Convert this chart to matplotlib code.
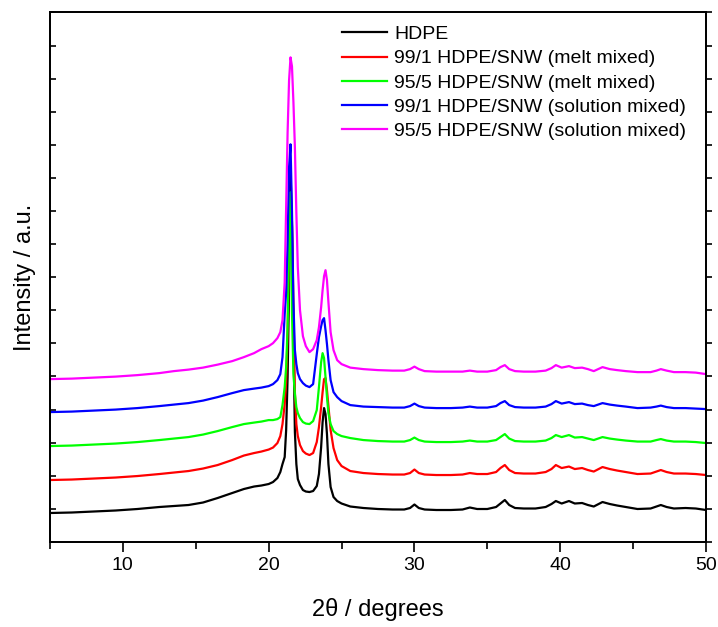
"""XRD patterns of HDPE and HDPE/SNW composites, curves stacked with offsets."""

import matplotlib

matplotlib.use("Agg")
import matplotlib.pyplot as plt  # noqa: E402
import numpy as np  # noqa: E402

plt.rcParams["font.family"] = ["Liberation Sans", "DejaVu Sans"]

# 2theta (degrees)
two_theta = [
    5.0, 6.5, 8.0, 9.5, 11.0, 12.5, 13.5, 14.5, 15.5, 16.5,
    17.5, 18.3, 19.0, 19.5, 20.0, 20.3, 20.6, 20.8, 20.95, 21.1,
    21.2, 21.3, 21.4, 21.5, 21.6, 21.7, 21.8, 21.9, 22.0, 22.15,
    22.35, 22.55, 22.8, 23.05, 23.3, 23.45, 23.6, 23.7, 23.8, 23.9,
    24.0, 24.1, 24.25, 24.45, 24.7, 25.0, 25.6, 26.5, 27.5, 28.5,
    29.3, 29.7, 30.0, 30.3, 30.7, 31.5, 32.5, 33.3, 33.8, 34.3,
    35.0, 35.6, 35.9, 36.2, 36.5, 36.9, 37.5, 38.3, 39.0, 39.4,
    39.7, 40.1, 40.6, 41.0, 41.5, 41.9, 42.3, 42.9, 43.4, 43.9,
    44.5, 45.3, 46.2, 46.6, 46.9, 47.3, 47.8, 48.6, 49.3, 50.0,
]

# intensities (a.u.), already offset as in the figure
hdpe = [
    29, 29.5, 30.5, 31.5, 33, 35, 36, 37, 39.5, 44,
    49, 53, 55.5, 56.5, 58, 60, 64, 70, 78, 85,
    112, 165, 255, 372, 315, 205, 110, 78, 63, 57,
    52, 50.5, 50, 51, 56, 68, 95, 120, 134, 128,
    108, 78, 55, 45, 41, 38.5, 35.5, 34, 33, 32.5,
    32.5, 34, 37.5, 34, 32.5, 32, 32, 32.5, 34.5, 33,
    33, 35, 38.5, 42, 37, 34, 33.5, 33.5, 35, 38,
    41, 38.5, 41, 38.5, 39, 37, 35.5, 40, 38, 36.5,
    35, 33, 33.5, 35.5, 37, 35, 33.5, 34, 33.5, 32,
]
melt_99_1 = [
    62, 62.5, 63.5, 64.5, 66, 68, 69.5, 71, 73.5, 77,
    82, 86.5, 89, 90.5, 92.5, 94.5, 99, 106, 118, 138,
    160, 210, 290, 345, 320, 235, 150, 118, 106, 97,
    91, 88.5, 87, 89, 100, 115, 135, 150, 163, 164,
    152, 136, 112, 94, 82, 76, 71, 69, 68, 67.5,
    67.5, 69, 72.5, 69, 67.5, 67, 67, 67.5, 69, 68,
    68, 70, 74, 77, 72, 69, 68.5, 68.5, 70, 73,
    77, 74, 75.5, 73, 74, 72, 70.5, 75, 73, 71.5,
    70, 68, 68.5, 70.5, 72, 70, 68.5, 68.5, 68, 67,
]
melt_95_5 = [
    96, 96.5, 97.5, 98.5, 100, 102, 103.5, 105, 107.5, 111,
    115, 118, 119.5, 120.5, 122, 122, 123, 125, 137, 155,
    175, 215, 300, 350, 230, 168, 148, 135, 129, 124,
    120, 118.5, 118, 121, 132, 155, 180, 189, 184, 165,
    145, 129, 118, 111, 108, 106, 104, 102, 101, 100.5,
    100.5, 102, 104.5, 102, 100.5, 100, 100, 100.5, 101.5, 100.5,
    100.5, 102, 105, 108, 103.5, 101, 100.5, 100.5, 101.5, 104,
    107, 105, 107, 104.5, 105, 103.5, 102, 105, 103.5, 102.5,
    101.5, 100.5, 100.5, 102, 103, 101.5, 100.5, 100.5, 100, 99,
]
sol_99_1 = [
    130, 130.5, 131.5, 132.5, 134, 136, 137.5, 139, 141.5, 145,
    149, 152, 153.5, 154.5, 156, 158, 162, 168, 185, 228,
    250, 300, 375, 398, 330, 240, 192, 178, 169, 163,
    159, 156.5, 155, 158, 188, 205, 216, 222, 224, 212,
    198, 182, 162, 150, 145, 141, 137, 135.5, 135, 134.5,
    134.5, 136, 138.5, 136, 134.5, 134, 134, 134.5, 135.5, 134.5,
    134.5, 136, 139, 141, 137, 135, 134.5, 134.5, 135.5, 138,
    141, 138.5, 140, 138, 138.5, 137, 136, 139, 137.5, 136.5,
    135.5, 134, 134.5, 135.5, 136.5, 135, 134, 134, 133.5, 133,
]
sol_95_5 = [
    163, 163.5, 164.5, 165.5, 167, 169, 171, 172.5, 174.5, 177.5,
    181, 185, 189, 193, 196, 199, 204, 210, 222, 260,
    335, 410, 462, 485, 476, 440, 395, 330, 275, 232,
    206, 196, 190, 193, 202, 215, 235, 252, 266, 272,
    262, 240, 210, 192, 182, 178, 174.5, 173, 172, 171.5,
    171.5, 173, 175.5, 173, 171, 170.5, 170.5, 170.5, 171.5, 170.5,
    170.5, 172, 175, 177, 173, 171, 170.5, 170.5, 171.5, 174,
    177, 174.5, 176, 174, 174.5, 173, 171, 175, 173, 172,
    171, 170, 170, 171.5, 173, 171.5, 170, 170, 169.5, 168,
]

labels = [
    "HDPE",
    "99/1 HDPE/SNW (melt mixed)",
    "95/5 HDPE/SNW (melt mixed)",
    "99/1 HDPE/SNW (solution mixed)",
    "95/5 HDPE/SNW (solution mixed)",
]
series = [hdpe, melt_99_1, melt_95_5, sol_99_1, sol_95_5]
colors = ["#000000", "#ff0000", "#00ff00", "#0000ff", "#ff00ff"]

y_top = 530.0
y_ticks = np.linspace(0, y_top, 17)

fig = plt.figure(figsize=(7.18, 6.27), dpi=100)
ax = fig.add_axes([0.0696, 0.1356, 0.9137, 0.8446])

for y, c, lab in zip(series, colors, labels):
    ax.plot(two_theta, y, color=c, lw=1.6, label=lab)

ax.set_xlim(5, 50)
ax.set_ylim(0, y_top)
ax.set_xticks([10, 20, 30, 40, 50])
ax.set_xticks([5, 15, 25, 35, 45], minor=True)
ax.set_yticks(y_ticks)
ax.tick_params(axis="x", which="major", direction="out", length=7, width=1.2,
               labelsize=14, pad=4, top=False)
ax.tick_params(axis="x", which="minor", direction="out", length=5, width=1.2,
               top=False)
ax.tick_params(axis="y", direction="in", length=4, width=1.2, labelleft=False)

# right-hand ticks point outward
ax_r = ax.twinx()
ax_r.set_ylim(0, y_top)
ax_r.set_yticks(y_ticks)
ax_r.tick_params(axis="y", direction="out", length=4, width=1.2, labelright=False)

for a in (ax, ax_r):
    for sp in a.spines.values():
        sp.set_linewidth(1.3)

ax.set_xlabel("2\u03b8 / degrees", fontsize=17, labelpad=17)
ax.set_ylabel("Intensity / a.u.", fontsize=17, labelpad=10)

ax.legend(loc="upper left", bbox_to_anchor=(0.434, 0.99), frameon=False,
          fontsize=14, handlelength=2.3, handletextpad=0.36, labelspacing=0.34,
          borderaxespad=0.0)

fig.savefig("out.png", dpi=100)
plt.close(fig)
